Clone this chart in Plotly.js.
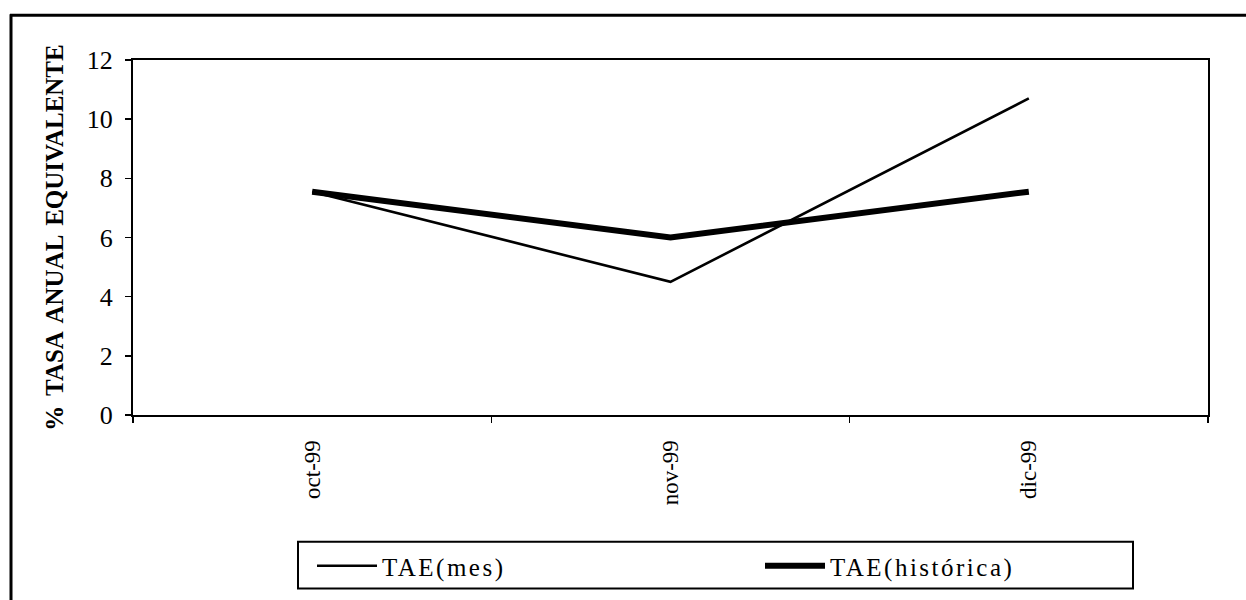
<!DOCTYPE html>
<html>
<head>
<meta charset="utf-8">
<script src="https://cdn.plot.ly/plotly-3.0.1.min.js"></script>
<style>
html, body { margin: 0; padding: 0; background: #fff; }
#chart { width: 1246px; height: 600px; }
.legendtext { letter-spacing: 2.5px; }
.ytitle { word-spacing: 4px; }
</style>
</head>
<body>
<div id="chart"></div>
<script>
// Data
const categories = ['oct-99', 'nov-99', 'dic-99'];
const taeMes = [7.55, 4.5, 10.7];
const taeHistorica = [7.55, 6.0, 7.55];
const seriesNames = ['TAE(mes)', 'TAE(histórica)'];
const yTickValues = [0, 2, 4, 6, 8, 10, 12];
const yTitle = '% TASA ANUAL EQUIVALENTE';

const serif = '"Liberation Serif", "Times New Roman", serif';

const traces = [
  {
    x: categories, y: taeMes, name: seriesNames[0],
    type: 'scatter', mode: 'lines',
    line: { color: '#000', width: 2.6 }
  },
  {
    x: categories, y: taeHistorica, name: seriesNames[1],
    type: 'scatter', mode: 'lines',
    line: { color: '#000', width: 6 }
  }
];

const W = 1246, H = 600;
const L = 133, R = 38, T = 60, B = 184;
const pw = W - L - R, ph = H - T - B;
const px = v => (v - L) / pw;
const py = v => (H - B - v) / ph;

const layout = {
  width: W, height: H,
  margin: { l: L, r: R, t: T, b: B },
  paper_bgcolor: '#fff', plot_bgcolor: '#fff',
  font: { family: serif, color: '#000', size: 22 },
  showlegend: true,
  legend: {
    orientation: 'h',
    x: px(312), y: py(566), xanchor: 'left', yanchor: 'middle',
    bgcolor: 'rgba(0,0,0,0)', borderwidth: 0,
    font: { family: serif, size: 25, color: '#000' },
    itemwidth: 60,
    entrywidth: 373, entrywidthmode: 'pixels',
    traceorder: 'normal'
  },
  xaxis: {
    type: 'category',
    range: [-0.5, 2.5],
    tickson: 'boundaries',
    ticks: 'outside', ticklen: 6, tickwidth: 1.5, tickcolor: '#000',
    tickangle: -90,
    ticklabelstandoff: 14,
    tickfont: { family: serif, size: 23, color: '#000' },
    showline: true, linecolor: '#000', linewidth: 2, mirror: true,
    showgrid: false, zeroline: false, fixedrange: true
  },
  yaxis: {
    range: [0, 12],
    tickvals: yTickValues,
    ticks: 'outside', ticklen: 6, tickwidth: 1.5, tickcolor: '#000',
    ticklabelstandoff: 7,
    tickfont: { family: serif, size: 26, color: '#000' },
    showline: true, linecolor: '#000', linewidth: 2, mirror: true,
    showgrid: false, zeroline: false, fixedrange: true,
    title: { text: yTitle, font: { family: serif, size: 25, color: '#000', weight: 'bold' }, standoff: 16 }
  },
  shapes: [
    // legend box
    { type: 'rect', xref: 'paper', yref: 'paper',
      x0: px(298), x1: px(1133), y0: py(590), y1: py(543),
      line: { color: '#000', width: 2 }, fillcolor: 'rgba(0,0,0,0)' },
    // outer frame: top and left edges
    { type: 'line', xref: 'paper', yref: 'paper',
      x0: px(10), x1: px(1250), y0: py(15), y1: py(15),
      line: { color: '#000', width: 3 } },
    { type: 'line', xref: 'paper', yref: 'paper',
      x0: px(11), x1: px(11), y0: py(14), y1: py(605),
      line: { color: '#000', width: 3 } }
  ]
};

Plotly.newPlot('chart', traces, layout, { displayModeBar: false, staticPlot: true });
</script>
</body>
</html>
